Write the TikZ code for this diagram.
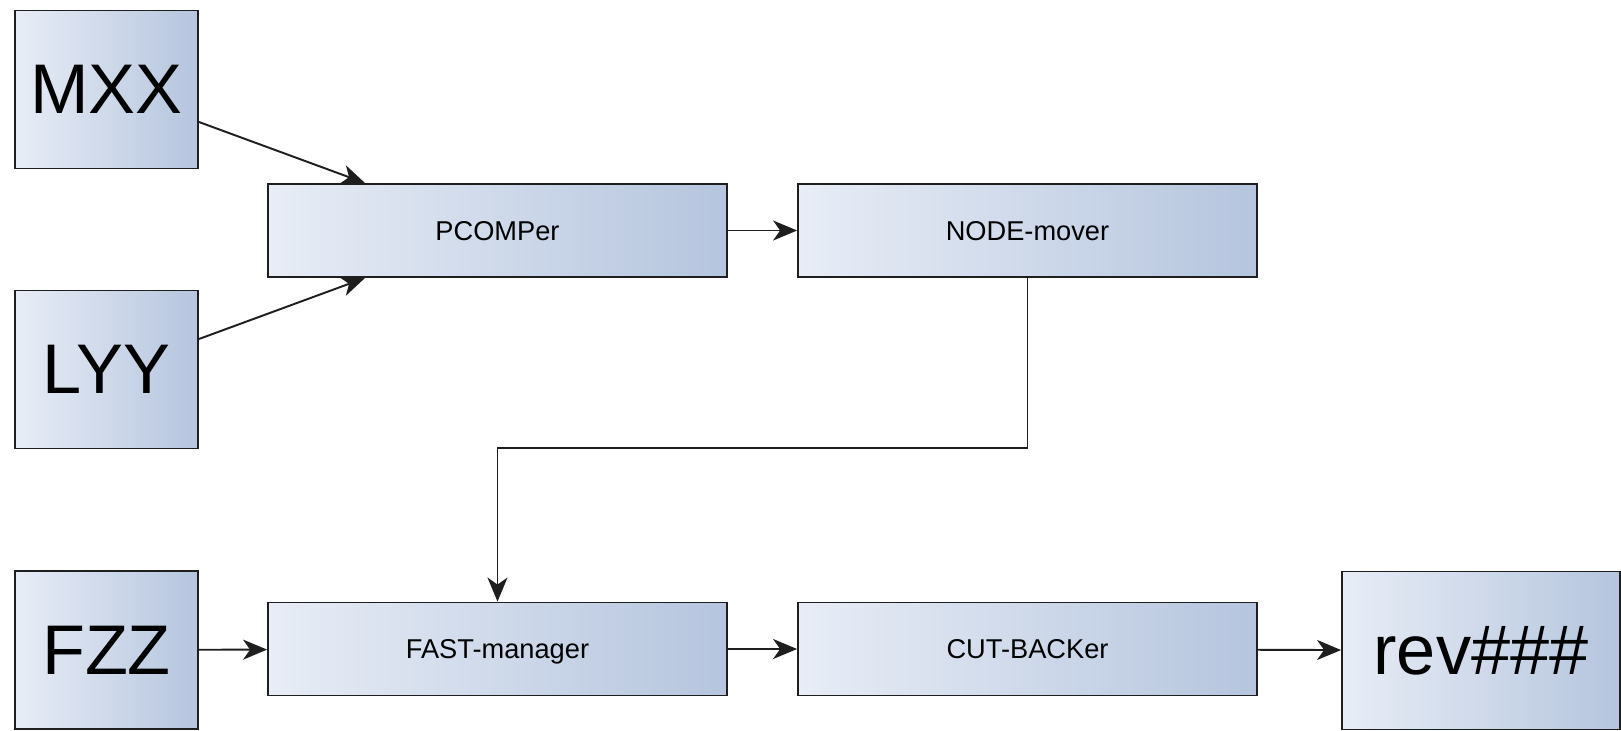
\documentclass[tikz,border=0pt]{standalone}
\usepackage{fontspec}
\setmainfont{Liberation Sans}
\usepackage{tikz}
\usetikzlibrary{arrows.meta}

\definecolor{boxlight}{HTML}{E8EDF6}
\definecolor{boxdark}{HTML}{B5C5DE}
\definecolor{boxline}{HTML}{1E1E1E}

\begin{document}
\begin{tikzpicture}[x=0.02cm, y=-0.02cm, >={Stealth[length=0.48cm, width=0.4cm, inset=0.14cm]},
	box/.style={draw=boxline, line width=1.1pt, left color=boxlight, right color=boxdark, minimum width=9.18cm, minimum height=1.86cm, text height=11pt, text depth=0pt, font=\fontsize{15.5}{18}\selectfont},
	bigbox/.style={draw=boxline, line width=1.1pt, left color=boxlight, right color=boxdark, minimum width=3.66cm, minimum height=3.16cm, font=\fontsize{40}{48}\selectfont},
	flow/.style={->, line width=1.1pt, boxline}]
	\useasboundingbox (0, 0) rectangle (1621, 730);
	\node [bigbox] (mxx) at (106.5, 89.5) {MXX};
	\node [bigbox] (lyy) at (106.5, 369.5) {LYY};
	\node [bigbox] (fzz) at (106.5, 650) {FZZ};
	\node [bigbox, minimum width=5.56cm] (rev) at (1481, 650.5) {rev\#\#\#};
	\node [box] (pcomper) at (497.5, 230.5) {PCOMPer};
	\node [box] (nodemover) at (1027.5, 230.5) {NODE-mover};
	\node [box] (fastmgr) at (497.5, 649) {FAST-manager};
	\node [box] (cutbacker) at (1027.5, 649) {CUT-BACKer};
	\coordinate (bend) at (760, 448);
	\draw [flow] ([yshift=-0.65cm]mxx.east) -- ([xshift=-2.65cm]pcomper.north);
	\draw [flow] ([yshift=0.61cm]lyy.east) -- ([xshift=-2.65cm]pcomper.south);
	\draw [flow] (pcomper) -- (nodemover);
	\draw [flow] (nodemover.south) |- (bend) -| (fastmgr.north);
	\draw [flow] (fzz) -- (fastmgr);
	\draw [flow] (fastmgr) -- (cutbacker);
	\draw [flow] (cutbacker) -- (rev);
\end{tikzpicture}
\end{document}
